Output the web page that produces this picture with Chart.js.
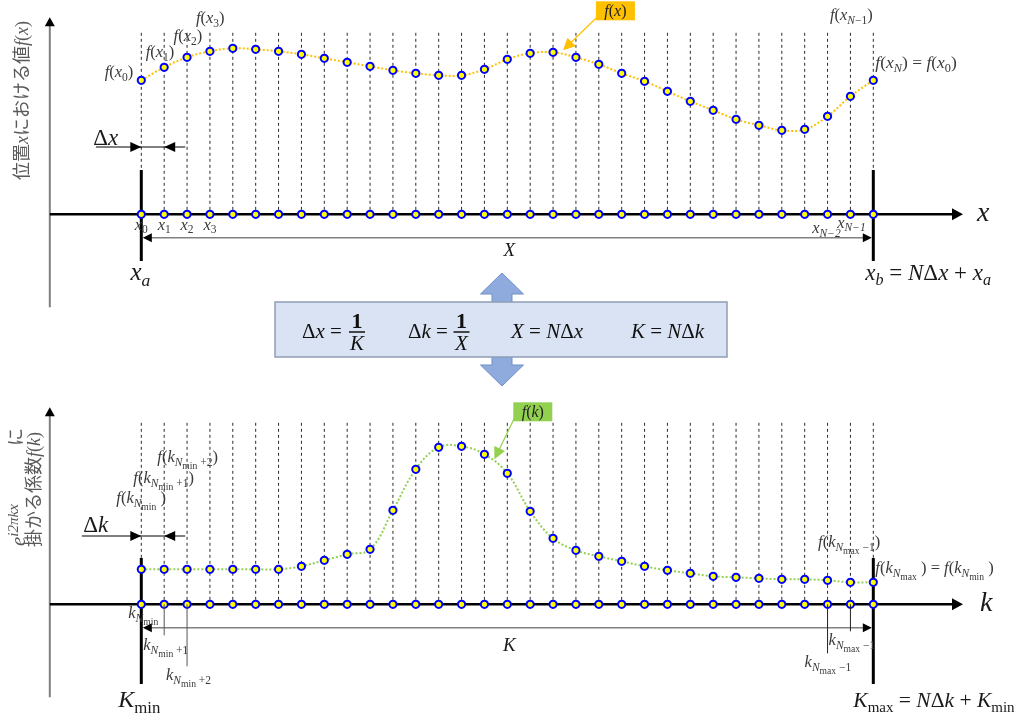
<!DOCTYPE html>
<html>
<head>
<meta charset="utf-8">
<script src="https://cdn.jsdelivr.net/npm/chart.js@4.4.1/dist/chart.umd.min.js"></script>
<style>
  html,body{margin:0;padding:0;background:#fff;overflow:hidden}
  canvas{display:block}
</style>
</head>
<body>
<canvas id="dft" width="1020" height="717"></canvas>
<script>
// sample positions x_0..x_N (and k_0..k_N), N = 32
const gridIdx = [0,1,2,3,4,5,6,7,8,9,10,11,12,13,14,15,16,17,18,19,20,21,22,23,24,25,26,27,28,29,30,31,32];
// f(x) sampled on the position grid
const fxVals = [1.34,1.47,1.57,1.63,1.66,1.65,1.63,1.60,1.56,1.52,1.48,1.44,1.41,1.39,1.39,1.45,1.55,1.61,1.62,1.57,1.50,1.41,1.33,1.23,1.13,1.04,0.95,0.89,0.84,0.85,0.98,1.18,1.34];
// f(k) coefficients sampled on the wavenumber grid
const fkVals = [0.35,0.35,0.35,0.35,0.35,0.35,0.35,0.38,0.44,0.50,0.55,0.94,1.35,1.57,1.58,1.50,1.31,0.93,0.66,0.54,0.48,0.43,0.38,0.34,0.31,0.28,0.27,0.26,0.25,0.25,0.24,0.22,0.22];
// grid markers sitting on the horizontal axes
const axisZeros = [0,0,0,0,0,0,0,0,0,0,0,0,0,0,0,0,0,0,0,0,0,0,0,0,0,0,0,0,0,0,0,0,0];

// label texts as [text, style] runs
const M = '\u2212';
const topValueLabels = {
  f0:  [['f','i'],['(','r'],['x','i'],['0','sr'],[')','r']],
  f1:  [['f','i'],['(','r'],['x','i'],['1','sr'],[')','r']],
  f2:  [['f','i'],['(','r'],['x','i'],['2','sr'],[')','r']],
  f3:  [['f','i'],['(','r'],['x','i'],['3','sr'],[')','r']],
  fN1: [['f','i'],['(','r'],['x','i'],['N','si'],[M+'1','sr'],[')','r']],
  fN:  [['f','i'],['(','r'],['x','i'],['N','si'],[')','r'],[' = ','r'],['f','i'],['(','r'],['x','i'],['0','sr'],[')','r']]
};
const topTickLabels = [
  [['x','i'],['0','sr']], [['x','i'],['1','sr']], [['x','i'],['2','sr']], [['x','i'],['3','sr']]
];
const topTickN2 = [['x','i'],['N'+M+'2','si']];
const topTickN1 = [['x','i'],['N'+M+'1','si']];
const botValueLabels = {
  f0:  [['f','i'],['(','r'],['k','i'],['N','si'],['min','ssr'],[' ','r'],[')','r']],
  f1:  [['f','i'],['(','r'],['k','i'],['N','si'],['min','ssr'],[' +1','sr'],[')','r']],
  f2:  [['f','i'],['(','r'],['k','i'],['N','si'],['min','ssr'],[' +2','sr'],[')','r']],
  fN1: [['f','i'],['(','r'],['k','i'],['N','si'],['max','ssr'],[' '+M+'1','sr'],[')','r']],
  fN:  [['f','i'],['(','r'],['k','i'],['N','si'],['max','ssr'],[' ','r'],[')','r'],[' = ','r'],['f','i'],['(','r'],['k','i'],['N','si'],['min','ssr'],[' ','r'],[')','r']]
};
const botTickLabels = {
  k0:  [['k','i'],['N','si'],['min','ssr']],
  k1:  [['k','i'],['N','si'],['min','ssr'],[' +1','sr']],
  k2:  [['k','i'],['N','si'],['min','ssr'],[' +2','sr']],
  kN1: [['k','i'],['N','si'],['max','ssr'],[' '+M+'1','sr']]
};

const SERIF = '"Liberation Serif", "DejaVu Serif", serif';
const CJK = '"Noto Sans CJK JP", sans-serif';
const KINDS = {
  i:   {st:'italic ', sc:1, dy:0},
  r:   {st:'', sc:1, dy:0},
  b:   {st:'bold ', sc:1, dy:0},
  j:   {st:'', sc:1, dy:0, fam:CJK},
  si:  {st:'italic ', sc:0.7, dy:0.22},
  sr:  {st:'', sc:0.7, dy:0.22},
  ssr: {st:'', sc:0.58, dy:0.42},
  pi:  {st:'italic ', sc:0.72, dy:-0.32},
  pr:  {st:'', sc:0.72, dy:-0.32}
};

function setRunFont(ctx, k, size){
  const d = KINDS[k];
  ctx.font = d.st + (size*d.sc).toFixed(1) + 'px ' + (d.fam || SERIF);
  return d;
}
function runsWidth(ctx, runs, size){
  let w = 0;
  runs.forEach(([t,k]) => { setRunFont(ctx,k,size); w += ctx.measureText(t).width; });
  return w;
}
function drawRuns(ctx, runs, x, y, size, align, color){
  const w = runsWidth(ctx, runs, size);
  let cx = align === 'center' ? x - w/2 : align === 'right' ? x - w : x;
  ctx.save();
  ctx.fillStyle = color || '#000';
  ctx.textAlign = 'left';
  ctx.textBaseline = 'alphabetic';
  runs.forEach(([t,k]) => {
    const d = setRunFont(ctx,k,size);
    ctx.fillText(t, cx, y + d.dy*size);
    cx += ctx.measureText(t).width;
  });
  ctx.restore();
}
function seg(ctx, x1, y1, x2, y2, color, w, dash){
  ctx.save();
  ctx.strokeStyle = color; ctx.lineWidth = w;
  ctx.setLineDash(dash || []);
  ctx.beginPath(); ctx.moveTo(x1,y1); ctx.lineTo(x2,y2); ctx.stroke();
  ctx.restore();
}
// filled arrowhead with its tip at (x,y), pointing along angle a
function head(ctx, x, y, a, len, half, color){
  ctx.save();
  ctx.translate(x,y); ctx.rotate(a);
  ctx.fillStyle = color;
  ctx.beginPath(); ctx.moveTo(0,0); ctx.lineTo(-len,-half); ctx.lineTo(-len,half); ctx.closePath(); ctx.fill();
  ctx.restore();
}

const INK = '#3a3a3a';
const LBL = 16.5;
const N = gridIdx[gridIdx.length-1];

const panelPlugin = {
  id: 'panels',
  beforeDatasetsDraw(chart){
    const ctx = chart.ctx;
    const xs = chart.scales.x;
    const X = v => xs.getPixelForValue(v);
    [chart.scales.yTop, chart.scales.yBot].forEach((ys, p) => {
      const Y = v => ys.getPixelForValue(v);
      const ax = Y(0);
      // dashed sample lines
      gridIdx.forEach(i => seg(ctx, X(i), Y(1.815), X(i), ax, '#2a2a2a', 1, [3,3]));
      // vertical (value) axis
      const vx = X(-4);
      seg(ctx, vx, Y(1.90), vx, Y(-0.93), '#7f7f7f', 2);
      head(ctx, vx, Y(1.97), -Math.PI/2, 9, 5, '#000');
      // horizontal axis
      seg(ctx, vx, ax, X(35.5), ax, '#000', 2.5);
      head(ctx, X(35.92), ax, 0, 11, 6, '#000');
      // interval bounds
      const b0 = p === 0 ? 0.443 : 0.463, b1 = p === 0 ? -0.467 : -0.797;
      seg(ctx, X(0), Y(b0), X(0), Y(b1), '#000', 3);
      seg(ctx, X(N), Y(b0), X(N), Y(b1), '#000', 3);
    });
  },
  afterDraw(chart){
    const ctx = chart.ctx;
    const xs = chart.scales.x, yt = chart.scales.yTop, yb = chart.scales.yBot;
    const X = v => xs.getPixelForValue(v);
    const aT = yt.getPixelForValue(0), aB = yb.getPixelForValue(0);

    // total-length arrows X and K
    [[yt, aT, [['X','i']]], [yb, aB, [['K','i']]]].forEach(([ys, ax, lbl]) => {
      const y = ys.getPixelForValue(-0.234);
      seg(ctx, X(0)+8, y, X(N)-8, y, '#808080', 1.5);
      head(ctx, X(0)+1.5, y, Math.PI, 9, 4.5, '#000');
      head(ctx, X(N)-1.5, y, 0, 9, 4.5, '#000');
      drawRuns(ctx, lbl, X(16)+2, ax + (ys === yt ? 42 : 47), 19, 'center', '#1a1a1a');
    });

    // spacing markers Δx / Δk
    [[yt, 0.673, -1.98, [['Δ','r'],['x','i']], 69], [yb, 0.683, -2.6, [['Δ','r'],['k','i']], 72]].forEach(([ys, v, from, lbl, h], p) => {
      const y = ys.getPixelForValue(v);
      seg(ctx, X(from), y, X(1.92), y, '#000', 1);
      head(ctx, X(0), y, 0, 11, 5, '#000');
      head(ctx, X(1), y, Math.PI, 11, 5, '#000');
      drawRuns(ctx, lbl, X(0) - (p === 0 ? 48 : 58), ys.getPixelForValue(0) - h, 23, 'left', '#1a1a1a');
    });

    // top panel labels
    drawRuns(ctx, topValueLabels.f0, X(0)-8, aT-137, LBL, 'right', INK);
    drawRuns(ctx, topValueLabels.f1, X(1)-18.5, aT-157, LBL, 'left', INK);
    drawRuns(ctx, topValueLabels.f2, X(2)-13.5, aT-173, LBL, 'left', INK);
    drawRuns(ctx, topValueLabels.f3, X(3)-14, aT-191, LBL, 'left', INK);
    drawRuns(ctx, topValueLabels.fN1, X(N-1)-20.5, aT-194, LBL, 'left', INK);
    drawRuns(ctx, topValueLabels.fN, X(N)+2, aT-146, 17.5, 'left', INK);
    topTickLabels.forEach((r, i) => drawRuns(ctx, r, X(i), aT+15.5, LBL, 'center', INK));
    drawRuns(ctx, topTickN2, X(N-2)-1, aT+19, LBL, 'center', INK);
    drawRuns(ctx, topTickN1, X(N-1)+1, aT+13.5, LBL, 'center', INK);
    drawRuns(ctx, [['x','i'],['a','si']], X(0)-1, aT+66, 25, 'center', '#1a1a1a');
    drawRuns(ctx, [['x','i'],['b','si'],[' = ','r'],['N','i'],['Δ','r'],['x','i'],[' + ','r'],['x','i'],['a','si']], X(N)-8, aT+66, 23, 'left', '#1a1a1a');
    drawRuns(ctx, [['x','i']], 977, aT+7, 28, 'left', '#1a1a1a');

    // bottom panel labels
    drawRuns(ctx, botValueLabels.f2, X(0)+16, aB-142, LBL, 'left', INK);
    drawRuns(ctx, botValueLabels.f1, X(0)-8, aB-121, LBL, 'left', INK);
    drawRuns(ctx, botValueLabels.f0, X(0)-25, aB-101, LBL, 'left', INK);
    drawRuns(ctx, botValueLabels.fN1, X(N-2)-9.5, aB-57, LBL, 'left', INK);
    drawRuns(ctx, botValueLabels.fN, X(N)+2, aB-31, LBL, 'left', INK);
    // leader lines for the crowded wavenumber ticks
    seg(ctx, X(1), aB, X(1), aB+31, '#555', 1);
    seg(ctx, X(2), aB, X(2), aB+62, '#555', 1);
    seg(ctx, X(N-2), aB, X(N-2), aB+49, '#222', 1);
    seg(ctx, X(N-1), aB, X(N-1), aB+27, '#222', 1);
    drawRuns(ctx, botTickLabels.k0, X(0)-13, aB+14, LBL, 'left', INK);
    drawRuns(ctx, botTickLabels.k1, X(0)+2, aB+46, LBL, 'left', INK);
    drawRuns(ctx, botTickLabels.k2, X(2)-21, aB+76, LBL, 'left', INK);
    drawRuns(ctx, botTickLabels.kN1, X(N-2)+1, aB+41, LBL, 'left', INK);
    drawRuns(ctx, botTickLabels.kN1, X(N-2)-23, aB+63, LBL, 'left', INK);
    drawRuns(ctx, [['K','i'],['min','sr']], X(0)-2, aB+103, 24, 'center', '#1a1a1a');
    drawRuns(ctx, [['K','i'],['max','sr'],[' = ','r'],['N','i'],['Δ','r'],['k','i'],[' + ','r'],['K','i'],['min','sr']], X(N)-20, aB+103, 21.5, 'left', '#1a1a1a');
    drawRuns(ctx, [['k','i']], 980, aB+7, 28, 'left', '#1a1a1a');

    // callouts for the two curves
    const callout = (bx, by, fill, tipX, tipY, lbl) => {
      ctx.save();
      ctx.fillStyle = fill; ctx.fillRect(bx, by, 39, 19);
      ctx.restore();
      drawRuns(ctx, lbl, bx+19.5, by+14.5, 16, 'center', '#222');
      const a = Math.atan2(tipY-(by+16), tipX-(bx+1));
      seg(ctx, bx+1, by+16, tipX-9*Math.cos(a), tipY-9*Math.sin(a), fill, 1.2);
      head(ctx, tipX, tipY, a, 12, 6, fill);
    };
    callout(X(19)+20, aT-213, '#FFC000', X(18)+10, yt.getPixelForValue(fxVals[18])-2, [['f','i'],['(','r'],['x','i'],[')','r']]);
    callout(X(16)+6, aB-202, '#92D050', X(15)+10, yb.getPixelForValue(fkVals[15])+5, [['f','i'],['(','r'],['k','i'],[')','r']]);

    // axis titles (rotated)
    const vert = (cx, y0, runs, size) => {
      ctx.save(); ctx.translate(cx, y0); ctx.rotate(-Math.PI/2);
      drawRuns(ctx, runs, 0, size*0.36, size, 'left', '#595959');
      ctx.restore();
    };
    vert(22, 180, [['位置','j'],['x','i'],['における値','j'],['f','i'],['(','r'],['x','i'],[')','r']], 18);
    vert(17, 546, [['e','i'],['i2πkx','pi']], 21);
    vert(16, 446, [['に','j']], 18);
    vert(34, 547, [['掛かる係数','j'],['f','i'],['(','r'],['k','i'],[')','r']], 18);

    // relation box with double arrow
    ctx.save();
    const cx = 502;
    ctx.beginPath();
    ctx.moveTo(cx, 273); ctx.lineTo(cx+21.5, 294); ctx.lineTo(cx+10, 294);
    ctx.lineTo(cx+10, 365); ctx.lineTo(cx+21.5, 365); ctx.lineTo(cx, 386);
    ctx.lineTo(cx-21.5, 365); ctx.lineTo(cx-10, 365); ctx.lineTo(cx-10, 294);
    ctx.lineTo(cx-21.5, 294); ctx.closePath();
    ctx.fillStyle = '#8FAADC'; ctx.fill();
    ctx.strokeStyle = '#6F8FC6'; ctx.lineWidth = 1; ctx.stroke();
    ctx.fillStyle = '#DAE3F3'; ctx.fillRect(275, 302, 452, 55);
    ctx.strokeStyle = '#8E9DB5'; ctx.lineWidth = 1.5; ctx.strokeRect(275, 302, 452, 55);
    ctx.restore();
    const frac = (x, num, den) => {
      drawRuns(ctx, num, x, 328, 22, 'center', '#111');
      seg(ctx, x-8, 332, x+8, 332, '#111', 1.5);
      drawRuns(ctx, den, x, 350, 21, 'center', '#111');
    };
    drawRuns(ctx, [['Δ','r'],['x','i'],[' = ','r']], 302, 338, 21, 'left', '#111');
    frac(357, [['1','b']], [['K','i']]);
    drawRuns(ctx, [['Δ','r'],['k','i'],[' = ','r']], 408, 338, 21, 'left', '#111');
    frac(461.5, [['1','b']], [['X','i']]);
    drawRuns(ctx, [['X','i'],[' = ','r'],['N','i'],['Δ','r'],['x','i']], 511, 338, 21, 'left', '#111');
    drawRuns(ctx, [['K','i'],[' = ','r'],['N','i'],['Δ','r'],['k','i']], 631, 338, 21, 'left', '#111');
  }
};

const pts = {pointRadius: 3.6, pointBorderWidth: 2, pointBorderColor: '#0000FF', pointBackgroundColor: '#FFFF00'};
const toXY = vals => vals.map((v, i) => ({x: gridIdx[i], y: v}));

new Chart(document.getElementById('dft'), {
  type: 'line',
  data: {
    datasets: [
      Object.assign({data: toXY(fxVals), yAxisID: 'yTop', borderColor: '#FFC000', borderWidth: 2, borderDash: [2,2], tension: 0.4, fill: false}, pts),
      Object.assign({data: toXY(axisZeros), yAxisID: 'yTop', showLine: false}, pts),
      Object.assign({data: toXY(fkVals), yAxisID: 'yBot', borderColor: '#92D050', borderWidth: 2, borderDash: [2,2], tension: 0.4, fill: false}, pts),
      Object.assign({data: toXY(axisZeros), yAxisID: 'yBot', showLine: false}, pts)
    ]
  },
  options: {
    responsive: false,
    devicePixelRatio: 1,
    animation: false,
    events: [],
    layout: {padding: 0, autoPadding: false},
    plugins: {legend: {display: false}, tooltip: {enabled: false}},
    scales: {
      x: {type: 'linear', min: -6.177, max: 38.413, display: false},
      yTop: {type: 'linear', min: -5.027, max: 2.143, display: false},
      yBot: {type: 'linear', min: -1.127, max: 6.043, display: false}
    }
  },
  plugins: [panelPlugin]
});
</script>
</body>
</html>
